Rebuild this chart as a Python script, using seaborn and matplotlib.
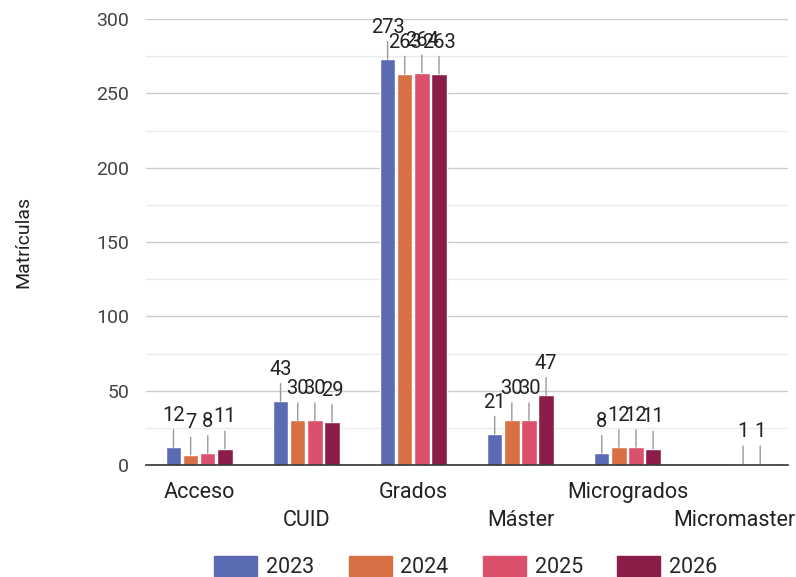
import matplotlib
matplotlib.use("Agg")
import matplotlib.pyplot as plt
import matplotlib.patches as mpatches
from matplotlib.ticker import MultipleLocator
import seaborn as sns
import pandas as pd

categories = ["Acceso", "CUID", "Grados", "Máster", "Microgrados", "Micromaster"]
years = ["2023", "2024", "2025", "2026"]
v2023 = [12, 43, 273, 21, 8, 0]
v2024 = [7, 30, 263, 30, 12, 0]
v2025 = [8, 30, 264, 30, 12, 1]
v2026 = [11, 29, 263, 47, 11, 1]
colors = ["#5A6BB4", "#D86F45", "#DB506A", "#8C1D48"]

series = [v2023, v2024, v2025, v2026]
rows = []
for y, vals in zip(years, series):
    for c, v in zip(categories, vals):
        rows.append({"Categoría": c, "Año": y, "Matrículas": v})
df = pd.DataFrame(rows)

sns.set_theme(style="white")
plt.rcParams["font.family"] = ["Roboto", "DejaVu Sans"]

fig = plt.figure(figsize=(7.96, 5.77), dpi=100)
ax = fig.add_axes([0.183, 0.194, 0.807, 0.773])

sns.barplot(data=df, x="Categoría", y="Matrículas", hue="Año", order=categories,
            hue_order=years, palette=colors, width=0.64, gap=0.1, saturation=1,
            ax=ax, legend=False)

ax.set_ylim(0, 300)
ax.yaxis.set_major_locator(MultipleLocator(50))
ax.yaxis.set_minor_locator(MultipleLocator(25))
ax.grid(axis="y", which="major", color="#cccccc", linewidth=1)
ax.grid(axis="y", which="minor", color="#ebebeb", linewidth=1)
ax.set_axisbelow(True)
for s in ["top", "right", "left"]:
    ax.spines[s].set_visible(False)
ax.spines["bottom"].set_color("#333333")
ax.spines["bottom"].set_linewidth(1.2)
ax.tick_params(axis="y", which="both", length=0, labelsize=14, labelcolor="#444444", pad=12)
ax.tick_params(axis="x", length=0, labelsize=15.5, labelcolor="#222222")
ax.set_xlim(-0.5, len(categories) - 0.5)

ax.set_xlabel("")
ax.set_ylabel("Matrículas", fontsize=14, color="#222222", labelpad=46)

for i, t in enumerate(ax.xaxis.get_major_ticks()):
    t.set_pad(12 if i % 2 == 0 else 32)

# value labels with leader lines
for container in ax.containers:
    for bar in container:
        h = bar.get_height()
        if h <= 0:
            continue
        x = bar.get_x() + bar.get_width() / 2
        ax.annotate(f"{int(h)}", xy=(x, h), xytext=(0, 16), textcoords="offset points",
                    ha="center", va="bottom", fontsize=14.5, color="#222222",
                    arrowprops=dict(arrowstyle="-", color="#999999", lw=1,
                                    shrinkA=1, shrinkB=0))

handles = [mpatches.Patch(color=c, label=y) for c, y in zip(colors, years)]
fig.legend(handles=handles, loc="lower center", bbox_to_anchor=(0.585, -0.036), ncol=4,
           frameon=False, fontsize=15.5, handlelength=2.0, handleheight=1.0,
           columnspacing=1.6, handletextpad=0.4)

fig.savefig("out.png", dpi=100)
